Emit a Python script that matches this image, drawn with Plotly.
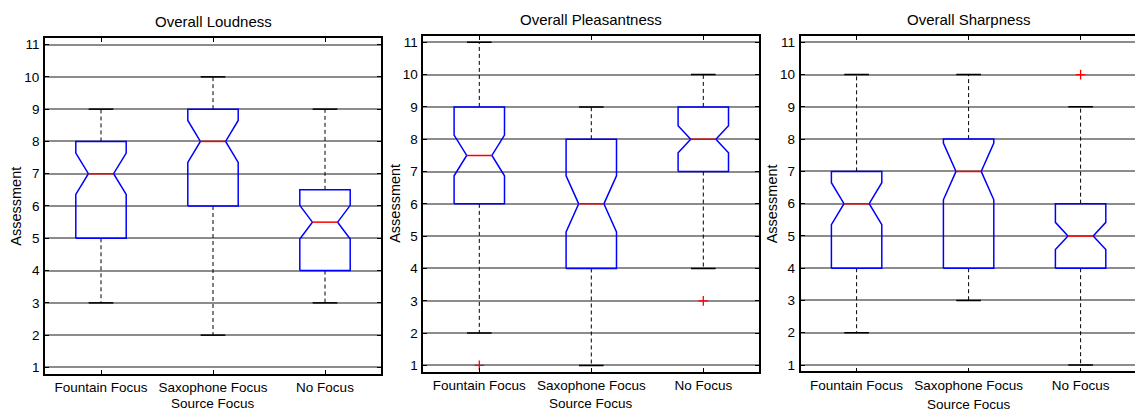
import plotly.graph_objects as go

W, H = 1135, 412

categories = ["Fountain Focus", "Saxophone Focus", "No Focus"]
titles = ["Overall Loudness", "Overall Pleasantness", "Overall Sharpness"]

# Loudness
loud_lower = [3, 2, 3]
loud_q1 = [5, 6, 4]
loud_median = [7, 8, 5.5]
loud_q3 = [8, 9, 6.5]
loud_upper = [9, 10, 9]
loud_notch = [0.64, 0.65, 0.52]
loud_outliers = [[], [], []]

# Pleasantness
pleas_lower = [2, 1, 4]
pleas_q1 = [6, 4, 7]
pleas_median = [7.5, 6, 8]
pleas_q3 = [9, 8, 9]
pleas_upper = [11, 9, 10]
pleas_notch = [0.63, 0.87, 0.42]
pleas_outliers = [[1], [], [3]]

# Sharpness
sharp_lower = [2, 3, 1]
sharp_q1 = [4, 4, 4]
sharp_median = [6, 7, 5]
sharp_q3 = [7, 8, 6]
sharp_upper = [10, 10, 9]
sharp_notch = [0.65, 0.88, 0.42]
sharp_outliers = [[], [], [10]]

panels = [
    (loud_lower, loud_q1, loud_median, loud_q3, loud_upper, loud_notch, loud_outliers),
    (pleas_lower, pleas_q1, pleas_median, pleas_q3, pleas_upper, pleas_notch, pleas_outliers),
    (sharp_lower, sharp_q1, sharp_median, sharp_q3, sharp_upper, sharp_notch, sharp_outliers),
]

# pixel geometry of the three axes boxes (left, right, top, bottom)
px_boxes = [
    (45.0, 381.0, 37.3, 374.7),
    (423.3, 759.3, 35.0, 372.7),
    (800.6, 1135.0, 35.0, 372.3),
]
unit_px = 112.0

BW = 0.225   # box half width
CW = 0.11    # cap half width
FONT = "Liberation Sans, Arial, sans-serif"

fig = go.Figure()
layout = dict(
    width=W, height=H,
    margin=dict(l=0, r=0, t=0, b=0),
    paper_bgcolor="white", plot_bgcolor="white",
    showlegend=False,
    font=dict(family=FONT, size=13, color="black"),
    annotations=[],
)

for p, (lo, q1, md, q3, up, nt, outl) in enumerate(panels):
    xa = "x" if p == 0 else f"x{p+1}"
    ya = "y" if p == 0 else f"y{p+1}"
    l, r, t, b = px_boxes[p]
    xmax = 0.5 + (r - l) / unit_px
    for i in range(len(categories)):
        x = i + 1
        # whiskers (dashed)
        fig.add_trace(go.Scatter(
            x=[x, x, None, x, x], y=[q3[i], up[i], None, q1[i], lo[i]],
            mode="lines", line=dict(color="black", width=1, dash="4px,3px"),
            xaxis=xa, yaxis=ya, hoverinfo="skip"))
        # caps
        fig.add_trace(go.Scatter(
            x=[x - CW, x + CW, None, x - CW, x + CW],
            y=[up[i], up[i], None, lo[i], lo[i]],
            mode="lines", line=dict(color="black", width=1.5),
            xaxis=xa, yaxis=ya, hoverinfo="skip"))
        # notched box
        bx = [x - BW, x + BW, x + BW, x + BW / 2, x + BW, x + BW,
              x - BW, x - BW, x - BW / 2, x - BW, x - BW]
        by = [q1[i], q1[i], md[i] - nt[i], md[i], md[i] + nt[i], q3[i],
              q3[i], md[i] + nt[i], md[i], md[i] - nt[i], q1[i]]
        fig.add_trace(go.Scatter(
            x=bx, y=by, mode="lines", line=dict(color="#0000ff", width=1.5),
            xaxis=xa, yaxis=ya, hoverinfo="skip"))
        # median
        fig.add_trace(go.Scatter(
            x=[x - BW / 2, x + BW / 2], y=[md[i], md[i]], mode="lines",
            line=dict(color="#ff0000", width=1.5),
            xaxis=xa, yaxis=ya, hoverinfo="skip"))
        # outliers
        if outl[i]:
            fig.add_trace(go.Scatter(
                x=[x] * len(outl[i]), y=outl[i], mode="markers",
                marker=dict(symbol="cross-thin", size=7,
                            line=dict(color="#ff0000", width=1.3)),
                xaxis=xa, yaxis=ya, hoverinfo="skip"))

    xkey = "xaxis" if p == 0 else f"xaxis{p+1}"
    ykey = "yaxis" if p == 0 else f"yaxis{p+1}"
    layout[xkey] = dict(
        domain=[l / W, r / W], anchor=ya, range=[0.5, xmax],
        tickvals=[1, 2, 3], ticktext=categories,
        ticks="inside", ticklen=4, tickcolor="black", tickwidth=1,
        showline=True, linecolor="black", linewidth=1.8, mirror="ticks",
        showgrid=False, zeroline=False,
        tickfont=dict(family=FONT, size=13.5, color="black"),
        fixedrange=True,
    )
    layout[ykey] = dict(
        domain=[1 - b / H, 1 - t / H], anchor=xa, range=[0.8, 11.2],
        tickvals=list(range(1, 12)),
        ticks="inside", ticklen=4, tickcolor="black", tickwidth=1,
        showline=True, linecolor="black", linewidth=1.8,
        mirror=("ticks" if p < 2 else False),
        showgrid=True, gridcolor="#8c8c8c", gridwidth=1.5, zeroline=False,
        tickfont=dict(family=FONT, size=13.5, color="black"),
        ticklabelstandoff=1,
        fixedrange=True,
    )
    cx = (l + (l + 3 * unit_px)) / 2
    title_y = [20.7, 18.5, 18.5][p]
    layout["annotations"].append(dict(
        text=titles[p], x=cx / W, y=1 - title_y / H, xref="paper", yref="paper",
        xanchor="center", yanchor="middle", showarrow=False,
        font=dict(family=FONT, size=15, color="black")))
    src_y = [404.3, 404.0, 405.5][p]
    layout["annotations"].append(dict(
        text="Source Focus", x=cx / W, y=1 - src_y / H, xref="paper", yref="paper",
        xanchor="center", yanchor="middle", showarrow=False,
        font=dict(family=FONT, size=13.5, color="black")))
    ass_x = [15.7, 395.0, 771.7][p]
    layout["annotations"].append(dict(
        text="Assessment", x=ass_x / W, y=1 - ((t + b) / 2) / H,
        xref="paper", yref="paper", xanchor="center", yanchor="middle",
        textangle=-90, showarrow=False,
        font=dict(family=FONT, size=14.5, color="black")))

fig.update_layout(**layout)
fig.write_html("out.html", config={"displayModeBar": False})
